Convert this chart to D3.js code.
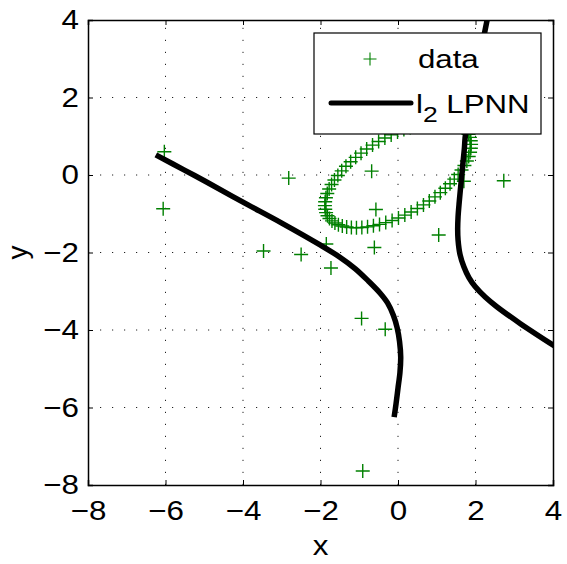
<!DOCTYPE html>
<html>
<head>
<meta charset="utf-8">
<script src="https://cdn.jsdelivr.net/npm/d3@7"></script>
<style>
  html, body { margin: 0; padding: 0; background: #fff; }
  svg { display: block; }
  text { font-family: "Liberation Sans", Arial, Helvetica, sans-serif; fill: #000; }
</style>
</head>
<body>
<svg id="chart" width="567" height="564"></svg>
<script>
// Axis ticks
const xTicks = [-8, -6, -4, -2, 0, 2, 4];
const yTicks = [-8, -6, -4, -2, 0, 2, 4];

// Scattered observations
const dataX = [-6.03, -6.06, -3.47, -2.82, -2.50, -1.85, -1.73, -0.68, -0.57, -0.61, -0.94, -0.33, -0.91, 1.05, 2.73, 1.70];
const dataY = [0.60, -0.87, -1.96, -0.08, -2.05, -1.78, -2.40, 0.10, -0.89, -1.87, -3.70, -3.98, -7.64, -1.55, -0.15, -0.16];

// Observations lying on the tilted ring
const ringX = [1.819, 1.768, 1.704, 1.628, 1.538, 1.437, 1.325, 1.203, 1.072, 0.933, 0.786, 0.634,
  0.477, 0.316, 0.152, -0.012, -0.176, -0.339, -0.500, -0.657, -0.808, -0.954, -1.092, -1.222,
  -1.343, -1.453, -1.552, -1.640, -1.714, -1.777, -1.825, -1.860, -1.880, -1.886, -1.878, -1.856,
  -1.819, -1.768, -1.704, -1.628, -1.538, -1.437, -1.325, -1.203, -1.072, -0.933, -0.786, -0.634,
  -0.477, -0.316, -0.152, 0.012, 0.176, 0.339, 0.500, 0.657, 0.808, 0.954, 1.092, 1.222,
  1.343, 1.453, 1.552, 1.640, 1.714, 1.777, 1.825, 1.860, 1.880, 1.886, 1.878, 1.856];
const ringY = [1.050, 1.122, 1.184, 1.238, 1.283, 1.318, 1.342, 1.357, 1.361, 1.355, 1.338, 1.311,
  1.275, 1.229, 1.173, 1.108, 1.035, 0.955, 0.866, 0.771, 0.671, 0.564, 0.455, 0.341,
  0.225, 0.107, -0.012, -0.130, -0.247, -0.363, -0.476, -0.586, -0.691, -0.790, -0.884, -0.970,
  -1.050, -1.122, -1.184, -1.238, -1.283, -1.318, -1.342, -1.357, -1.361, -1.355, -1.338, -1.311,
  -1.275, -1.229, -1.173, -1.108, -1.035, -0.955, -0.866, -0.771, -0.671, -0.564, -0.455, -0.341,
  -0.225, -0.107, 0.012, 0.130, 0.247, 0.363, 0.476, 0.586, 0.691, 0.790, 0.884, 0.970];

// Fitted curve, left branch
const fitAX = [-6.25, -5.50, -4.94, -4.00, -3.00, -2.00, -1.50, -1.10, -0.76, -0.46, -0.27, -0.12, -0.02, 0.04, 0.07, 0.05, 0.00, -0.05, -0.10];
const fitAY = [0.52, 0.12, -0.18, -0.70, -1.24, -1.81, -2.12, -2.42, -2.74, -3.05, -3.30, -3.62, -3.95, -4.30, -4.70, -5.10, -5.50, -5.90, -6.25];

// Fitted curve, right branch
const fitBX = [2.32, 2.20, 2.08, 1.97, 1.87, 1.78, 1.74, 1.71, 1.67, 1.63, 1.58, 1.55, 1.54, 1.55, 1.60, 1.70, 1.83, 1.99, 2.25, 2.55, 3.15, 4.05];
const fitBY = [4.10, 3.50, 2.90, 2.30, 1.70, 1.20, 1.03, 0.65, 0.25, -0.17, -0.70, -1.08, -1.40, -1.68, -2.05, -2.37, -2.65, -2.88, -3.15, -3.40, -3.83, -4.42];

const legendLabels = ["data", "l", "2", " LPNN"];

const svg = d3.select("#chart");
const padL = 88, padR = 553, padT = 20, padB = 485;
const x = d3.scaleLinear().domain([-8, 4]).range([padL, padR]);
const y = d3.scaleLinear().domain([-8, 4]).range([padB, padT]);
const green = "#008000";
const tickFont = 28, legendFont = 26;
const tickStretch = 1.12, legendStretch = 1.2;

// Dotted grid
const grid = svg.append("g").attr("stroke", "#222").attr("stroke-width", 1)
  .attr("stroke-dasharray", "1.2,10.8");
grid.selectAll("line.gx").data(xTicks.slice(1, -1)).join("line")
  .attr("x1", d => x(d)).attr("x2", d => x(d)).attr("y1", padB).attr("y2", padT);
grid.selectAll("line.gy").data(yTicks.slice(1, -1)).join("line")
  .attr("x1", padL).attr("x2", padR).attr("y1", d => y(d)).attr("y2", d => y(d));

// Clip to plotting box
svg.append("clipPath").attr("id", "plotClip").append("rect")
  .attr("x", padL).attr("y", padT).attr("width", padR - padL).attr("height", padB - padT);

const plot = svg.append("g").attr("clip-path", "url(#plotClip)");

// Plus markers
const plusPath = (cx, cy, r) => `M${cx - r},${cy}H${cx + r}M${cx},${cy - r}V${cy + r}`;
const ringPts = ringX.map((v, i) => [v, ringY[i]]);
const dataPts = dataX.map((v, i) => [v, dataY[i]]);
plot.append("g").selectAll("path").data(ringPts.concat(dataPts)).join("path")
  .attr("d", d => plusPath(x(d[0]), y(d[1]), 7))
  .attr("stroke", green).attr("stroke-width", 1.4).attr("fill", "none");

// Fitted curves
const line = d3.line().x(d => x(d[0])).y(d => y(d[1])).curve(d3.curveCatmullRom);
[[fitAX, fitAY], [fitBX, fitBY]].forEach(([xs, ys]) => {
  plot.append("path").datum(xs.map((v, i) => [v, ys[i]]))
    .attr("d", line).attr("fill", "none").attr("stroke", "#000")
    .attr("stroke-width", 5.5).attr("stroke-linejoin", "round");
});

// Axes with inward ticks
const fmt = d3.format("d");
const axB = svg.append("g").attr("transform", `translate(0,${padB})`)
  .call(d3.axisBottom(x).tickValues(xTicks).tickSize(-5).tickPadding(15).tickFormat(fmt));
const axL = svg.append("g").attr("transform", `translate(${padL},0)`)
  .call(d3.axisLeft(y).tickValues(yTicks).tickSize(-5).tickPadding(8).tickFormat(fmt));
const axT = svg.append("g").attr("transform", `translate(0,${padT})`)
  .call(d3.axisTop(x).tickValues(xTicks).tickSize(-5).tickFormat(""));
const axR = svg.append("g").attr("transform", `translate(${padR},0)`)
  .call(d3.axisRight(y).tickValues(yTicks).tickSize(-5).tickFormat(""));
[axB, axL, axT, axR].forEach(g => {
  g.select(".domain").attr("stroke", "#000").attr("stroke-width", 1.5);
  g.selectAll(".tick line").attr("stroke", "#000").attr("stroke-width", 1);
  g.selectAll("text").attr("font-size", tickFont).attr("font-family", null).attr("fill", "#000")
    .attr("transform", `scale(${tickStretch},1)`);
});

// Axis titles
svg.append("text").attr("transform", `translate(${(padL + padR) / 2},555) scale(${tickStretch},1)`)
  .attr("text-anchor", "middle").attr("font-size", tickFont).text("x");
svg.append("text").attr("transform", `translate(27,${(padT + padB) / 2}) rotate(-90)`)
  .attr("text-anchor", "middle").attr("font-size", tickFont).text("y");

// Legend
const lg = svg.append("g");
lg.append("rect").attr("x", 314).attr("y", 33).attr("width", 227).attr("height", 101)
  .attr("fill", "#fff").attr("stroke", "#000").attr("stroke-width", 1.2);
lg.append("path").attr("d", plusPath(370, 59, 6.5)).attr("stroke", green)
  .attr("stroke-width", 1.1).attr("fill", "none");
lg.append("text").attr("transform", `translate(418,68) scale(${legendStretch},1)`)
  .attr("font-size", legendFont).text(legendLabels[0]);
lg.append("line").attr("x1", 331).attr("x2", 411).attr("y1", 103).attr("y2", 103)
  .attr("stroke", "#000").attr("stroke-width", 5).attr("stroke-linecap", "round");
const t2 = lg.append("text").attr("transform", `translate(416,113) scale(${legendStretch},1)`)
  .attr("font-size", legendFont);
t2.append("tspan").text(legendLabels[1]);
t2.append("tspan").attr("dy", 9).attr("font-size", legendFont * 0.85).text(legendLabels[2]);
t2.append("tspan").attr("dy", -9).text(legendLabels[3]);
</script>
</body>
</html>
